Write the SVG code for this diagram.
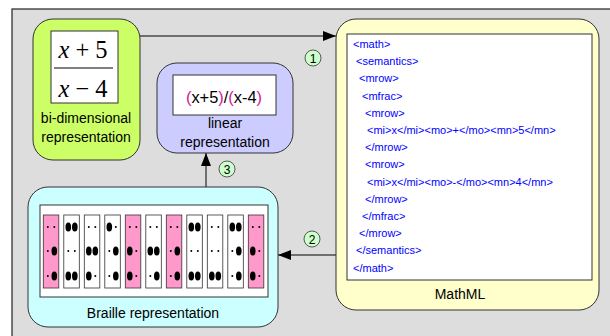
<svg xmlns="http://www.w3.org/2000/svg" width="610" height="336" viewBox="0 0 610 336">
<defs>
<style>
.box{stroke:#333;stroke-width:1}
.inner{fill:#fff;stroke:#333;stroke-width:1}
.lbl{font-family:"Liberation Sans",Arial,sans-serif;font-size:14px;fill:#000;text-anchor:middle}
.ml{font-family:"Liberation Sans",Arial,sans-serif;font-size:11px;fill:#0000ff}
.conn{stroke:#000;stroke-width:1;fill:none}
.num{fill:#ccffcc;stroke:#333;stroke-width:0.8}
.numt{font-family:"Liberation Sans",Arial,sans-serif;font-size:12px;text-anchor:middle;fill:#000}
.cell{fill:#fff;stroke:#333;stroke-width:0.8}
.pink{fill:#ff99cc}
.mag{fill:#d4149b}
</style>
<marker id="arr" markerUnits="userSpaceOnUse" markerWidth="14" markerHeight="12" refX="13" refY="5" orient="auto">
<path d="M0,0 L13,5 L0,10 Z" fill="#000"/>
</marker>
</defs>
<rect x="0" y="0" width="610" height="336" fill="#fff"/>
<rect x="12" y="9" width="600" height="330" fill="#dddddd" stroke="#222" stroke-width="1.2"/>

<g id="connectors">
<line class="conn" x1="140" y1="36" x2="336" y2="36" marker-end="url(#arr)"/>
<line class="conn" x1="336" y1="255" x2="278" y2="255" marker-end="url(#arr)"/>
<line class="conn" x1="206" y1="187" x2="206" y2="153" marker-end="url(#arr)"/>
<circle class="num" cx="313" cy="58" r="8"/>
<text class="numt" x="313" y="62.5">1</text>
<circle class="num" cx="312" cy="239" r="8"/>
<text class="numt" x="312" y="243.5">2</text>
<circle class="num" cx="227" cy="169" r="8"/>
<text class="numt" x="227" y="173.5">3</text>
</g>

<g id="bidim">
<rect class="box" x="33" y="19" width="107" height="141" rx="20" fill="#ccff66"/>
<rect class="inner" x="51" y="31" width="67" height="72"/>
<text x="83" y="58" font-family="'Liberation Serif','Times New Roman',serif" font-size="24.5" text-anchor="middle"><tspan font-style="italic">x</tspan> + 5</text>
<line x1="54" y1="68" x2="113" y2="68" stroke="#000" stroke-width="1"/>
<text x="83" y="97" font-family="'Liberation Serif','Times New Roman',serif" font-size="24.5" text-anchor="middle"><tspan font-style="italic">x</tspan> − 4</text>
<text class="lbl" x="86" y="123">bi-dimensional</text>
<text class="lbl" x="86" y="142">representation</text>
</g>

<g id="linear">
<rect class="box" x="157" y="63" width="136" height="90" rx="20" fill="#ccccff"/>
<rect class="inner" x="173" y="75" width="103" height="40"/>
<text x="224" y="103" font-family="'Liberation Sans',Arial,sans-serif" font-size="16.4" text-anchor="middle"><tspan class="mag">(</tspan>x+5<tspan class="mag">)</tspan>/<tspan class="mag">(</tspan>x-4<tspan class="mag">)</tspan></text>
<text class="lbl" x="225" y="128">linear</text>
<text class="lbl" x="225" y="147">representation</text>
</g>

<g id="mathml">
<rect class="box" x="336" y="19" width="263" height="291" rx="20" fill="#ffffcc"/>
<rect class="inner" x="347" y="34" width="245" height="246"/>
<text class="ml" x="353" y="48">&lt;math&gt;</text>
<text class="ml" x="356" y="65.2">&lt;semantics&gt;</text>
<text class="ml" x="359" y="82.4">&lt;mrow&gt;</text>
<text class="ml" x="362" y="99.6">&lt;mfrac&gt;</text>
<text class="ml" x="365" y="116.8">&lt;mrow&gt;</text>
<text class="ml" x="367" y="134">&lt;mi&gt;x&lt;/mi&gt;&lt;mo&gt;+&lt;/mo&gt;&lt;mn&gt;5&lt;/mn&gt;</text>
<text class="ml" x="365" y="151.2">&lt;/mrow&gt;</text>
<text class="ml" x="365" y="168.4">&lt;mrow&gt;</text>
<text class="ml" x="367" y="185.6">&lt;mi&gt;x&lt;/mi&gt;&lt;mo&gt;-&lt;/mo&gt;&lt;mn&gt;4&lt;/mn&gt;</text>
<text class="ml" x="365" y="202.8">&lt;/mrow&gt;</text>
<text class="ml" x="362" y="220">&lt;/mfrac&gt;</text>
<text class="ml" x="359" y="237.2">&lt;/mrow&gt;</text>
<text class="ml" x="356" y="254.4">&lt;/semantics&gt;</text>
<text class="ml" x="353" y="271.6">&lt;/math&gt;</text>
<text class="lbl" x="460" y="299">MathML</text>
</g>

<g id="braille">
<rect class="box" x="28" y="187" width="250" height="140" rx="20" fill="#ccffff"/>
<rect class="inner" x="40" y="205" width="228" height="92"/>
<g id="cell1" transform="translate(43.3,215)"><rect class="cell pink" x="0" y="0" width="15.5" height="73"/><circle cx="4.5" cy="12" r="1"/><circle cx="11" cy="12" r="1"/><circle cx="4.5" cy="36" r="1"/><ellipse cx="11" cy="36" rx="2.8" ry="4.5"/><circle cx="4.5" cy="61" r="1"/><ellipse cx="11" cy="61" rx="2.8" ry="4.5"/></g>
<g id="cell2" transform="translate(63.8,215)"><rect class="cell" x="0" y="0" width="15.5" height="73"/><ellipse cx="4.5" cy="12" rx="2.8" ry="4.5"/><ellipse cx="11" cy="12" rx="2.8" ry="4.5"/><circle cx="4.5" cy="36" r="1"/><circle cx="11" cy="36" r="1"/><ellipse cx="4.5" cy="61" rx="2.8" ry="4.5"/><ellipse cx="11" cy="61" rx="2.8" ry="4.5"/></g>
<g id="cell3" transform="translate(84.3,215)"><rect class="cell" x="0" y="0" width="15.5" height="73"/><circle cx="4.5" cy="12" r="1"/><circle cx="11" cy="12" r="1"/><ellipse cx="4.5" cy="36" rx="2.8" ry="4.5"/><ellipse cx="11" cy="36" rx="2.8" ry="4.5"/><ellipse cx="4.5" cy="61" rx="2.8" ry="4.5"/><circle cx="11" cy="61" r="1"/></g>
<g id="cell4" transform="translate(104.8,215)"><rect class="cell" x="0" y="0" width="15.5" height="73"/><ellipse cx="4.5" cy="12" rx="2.8" ry="4.5"/><circle cx="11" cy="12" r="1"/><circle cx="4.5" cy="36" r="1"/><ellipse cx="11" cy="36" rx="2.8" ry="4.5"/><circle cx="4.5" cy="61" r="1"/><ellipse cx="11" cy="61" rx="2.8" ry="4.5"/></g>
<g id="cell5" transform="translate(125.3,215)"><rect class="cell pink" x="0" y="0" width="15.5" height="73"/><circle cx="4.5" cy="12" r="1"/><circle cx="11" cy="12" r="1"/><ellipse cx="4.5" cy="36" rx="2.8" ry="4.5"/><circle cx="11" cy="36" r="1"/><ellipse cx="4.5" cy="61" rx="2.8" ry="4.5"/><circle cx="11" cy="61" r="1"/></g>
<g id="cell6" transform="translate(145.8,215)"><rect class="cell" x="0" y="0" width="15.5" height="73"/><circle cx="4.5" cy="12" r="1"/><circle cx="11" cy="12" r="1"/><ellipse cx="4.5" cy="36" rx="2.8" ry="4.5"/><ellipse cx="11" cy="36" rx="2.8" ry="4.5"/><circle cx="4.5" cy="61" r="1"/><ellipse cx="11" cy="61" rx="2.8" ry="4.5"/></g>
<g id="cell7" transform="translate(166.3,215)"><rect class="cell pink" x="0" y="0" width="15.5" height="73"/><circle cx="4.5" cy="12" r="1"/><circle cx="11" cy="12" r="1"/><circle cx="4.5" cy="36" r="1"/><ellipse cx="11" cy="36" rx="2.8" ry="4.5"/><circle cx="4.5" cy="61" r="1"/><ellipse cx="11" cy="61" rx="2.8" ry="4.5"/></g>
<g id="cell8" transform="translate(186.8,215)"><rect class="cell" x="0" y="0" width="15.5" height="73"/><ellipse cx="4.5" cy="12" rx="2.8" ry="4.5"/><ellipse cx="11" cy="12" rx="2.8" ry="4.5"/><circle cx="4.5" cy="36" r="1"/><circle cx="11" cy="36" r="1"/><ellipse cx="4.5" cy="61" rx="2.8" ry="4.5"/><ellipse cx="11" cy="61" rx="2.8" ry="4.5"/></g>
<g id="cell9" transform="translate(207.3,215)"><rect class="cell" x="0" y="0" width="15.5" height="73"/><circle cx="4.5" cy="12" r="1"/><circle cx="11" cy="12" r="1"/><circle cx="4.5" cy="36" r="1"/><circle cx="11" cy="36" r="1"/><ellipse cx="4.5" cy="61" rx="2.8" ry="4.5"/><ellipse cx="11" cy="61" rx="2.8" ry="4.5"/></g>
<g id="cell10" transform="translate(227.8,215)"><rect class="cell" x="0" y="0" width="15.5" height="73"/><ellipse cx="4.5" cy="12" rx="2.8" ry="4.5"/><ellipse cx="11" cy="12" rx="2.8" ry="4.5"/><circle cx="4.5" cy="36" r="1"/><ellipse cx="11" cy="36" rx="2.8" ry="4.5"/><circle cx="4.5" cy="61" r="1"/><ellipse cx="11" cy="61" rx="2.8" ry="4.5"/></g>
<g id="cell11" transform="translate(248.3,215)"><rect class="cell pink" x="0" y="0" width="15.5" height="73"/><circle cx="4.5" cy="12" r="1"/><circle cx="11" cy="12" r="1"/><ellipse cx="4.5" cy="36" rx="2.8" ry="4.5"/><circle cx="11" cy="36" r="1"/><ellipse cx="4.5" cy="61" rx="2.8" ry="4.5"/><circle cx="11" cy="61" r="1"/></g>
<text class="lbl" x="153" y="318">Braille representation</text>
</g>
</svg>
